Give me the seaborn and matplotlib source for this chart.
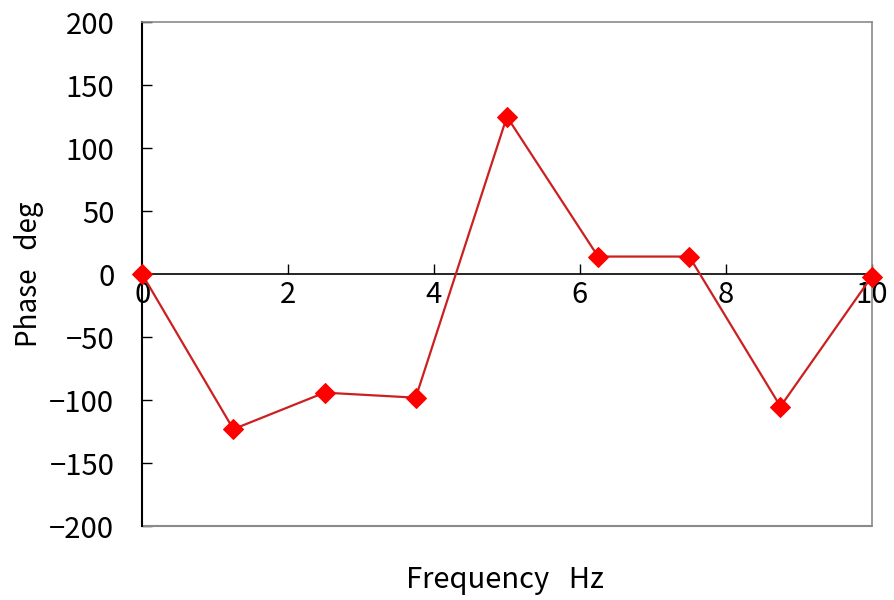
import matplotlib
matplotlib.use("Agg")
import matplotlib.pyplot as plt
import seaborn as sns
import pandas as pd

freq_hz = [0, 1.25, 2.5, 3.75, 5, 6.25, 7.5, 8.75, 10]
phase_deg = [0, -123, -94, -98, 125, 14, 14, -105, -2]
x_ticks = [0, 2, 4, 6, 8, 10]
y_ticks = [-200, -150, -100, -50, 0, 50, 100, 150, 200]

sns.set_theme(style="white")
plt.rcParams['font.family'] = ['Noto Sans CJK JP', 'DejaVu Sans']

df = pd.DataFrame({"f": freq_hz, "p": phase_deg})

fig = plt.figure(figsize=(8.94, 6), dpi=100)
ax = fig.add_axes([0.159, 0.123, 0.816, 0.840])

sns.lineplot(data=df, x="f", y="p", ax=ax, color="#cc2020", linewidth=1.6,
             marker="D", markersize=10, markerfacecolor="#ff0000",
             markeredgecolor="#ff0000", clip_on=False, zorder=5)

ax.set_xlim(0, 10)
ax.set_ylim(-200, 200)
ax.set_xticks(x_ticks)
ax.set_yticks(y_ticks)
ax.set_yticklabels([str(v).replace("-", "\u2212") for v in y_ticks])

# x axis sits on the zero line
ax.spines['bottom'].set_position(('data', 0))
ax.spines['bottom'].set_color('black')
ax.spines['bottom'].set_linewidth(1.2)
ax.spines['left'].set_color('black')
ax.spines['left'].set_linewidth(1.5)
for s in ['top', 'right']:
    ax.spines[s].set_color('#8a8a8a')
    ax.spines[s].set_linewidth(1.2)
# frame at the bottom
ax.axhline(-200, color='#8a8a8a', linewidth=1.5, clip_on=False, zorder=1)

ax.tick_params(axis='x', direction='in', length=7, width=1, colors='black',
               labelsize=21, pad=4, bottom=True)
ax.tick_params(axis='y', direction='in', length=7, width=1, colors='black',
               labelsize=21, pad=20, left=True)

ax.set_xlabel("")
ax.set_ylabel("Phase   deg", fontsize=20, labelpad=4, color='black')
fig.text(0.565, 0.033, "Frequency   Hz", fontsize=21, ha='center', va='center',
         color='black')

fig.savefig("out.png", dpi=100, facecolor='white')
